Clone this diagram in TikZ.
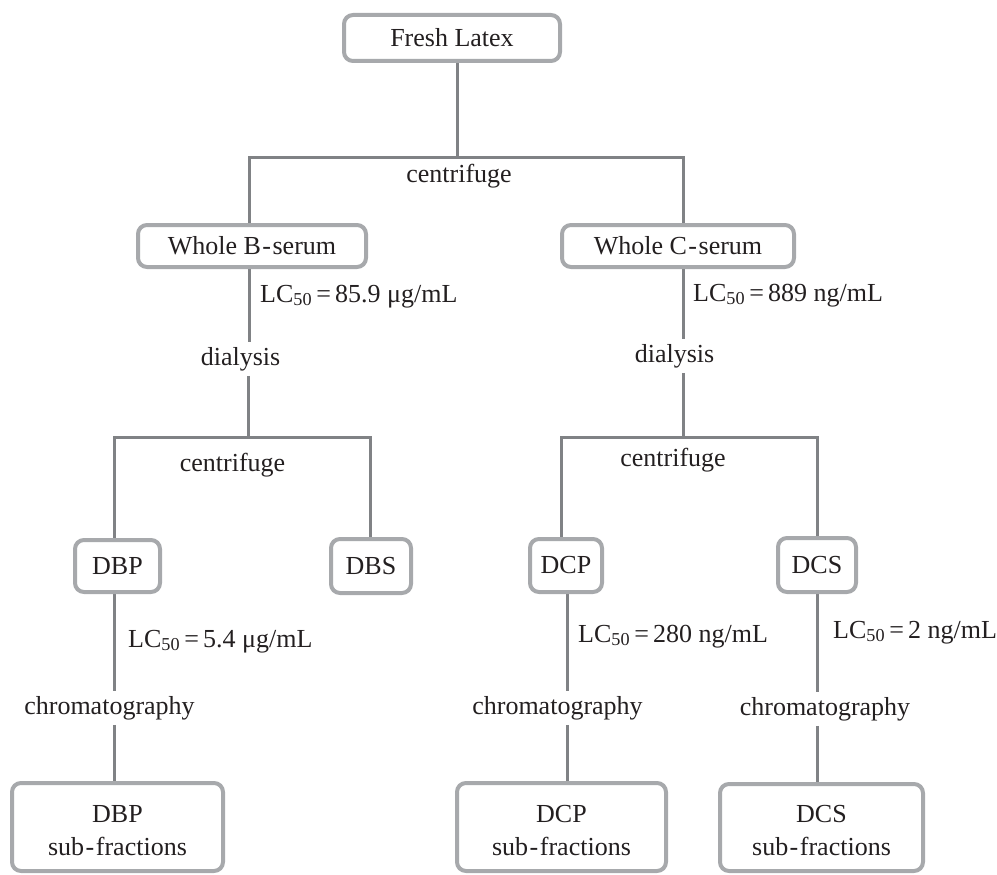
\documentclass[tikz,border=0pt]{standalone}
\usepackage{fontspec}
\setmainfont{Liberation Serif}
\definecolor{boxgray}{RGB}{167,169,172}
\definecolor{linegray}{RGB}{128,130,133}
\definecolor{txt}{RGB}{35,31,32}
\pgfdeclarelayer{background}
\pgfsetlayers{background,main}
\newcommand{\lcv}[1]{LC\textsubscript{50}\hspace{0.16em}=\hspace{0.16em}#1}
\newcommand{\hy}{\kern1.5pt-\kern1.5pt}
\begin{document}
\begin{tikzpicture}[x=1pt,y=-1pt,
  box/.style={draw=boxgray, line width=4pt, rounded corners=9pt, fill=white, inner sep=0pt,
    font=\fontsize{26}{33}\selectfont, align=center, text=txt},
  conn/.style={draw=linegray, line width=3pt},
  lbl/.style={font=\fontsize{26}{33}\selectfont, text=txt, inner sep=5pt, anchor=base},
  lc/.style={font=\fontsize{26}{33}\selectfont, text=txt, inner sep=0pt, anchor=base west}]
\useasboundingbox (0,0) rectangle (997,875);

% boxes
\node[box, minimum width=216pt, minimum height=46pt] (fl) at (452,38) {Fresh Latex};
\node[box, minimum width=228pt, minimum height=42pt] (wb) at (252,246) {Whole B\hy serum};
\node[box, minimum width=232pt, minimum height=42pt] (wc) at (678,246) {Whole C\hy serum};
\node[box, minimum width=85pt, minimum height=52pt] (dbp) at (117.5,566) {DBP};
\node[box, minimum width=80pt, minimum height=54pt] (dbs) at (371,566) {DBS};
\node[box, minimum width=72pt, minimum height=53pt] (dcp) at (566,565.5) {DCP};
\node[box, minimum width=78pt, minimum height=54pt] (dcs) at (817,565) {DCS};
\node[box, minimum width=211pt, minimum height=88pt] (dbpsub) at (117.5,827) {\rule{0pt}{24pt}DBP\\sub\hy fractions};
\node[box, minimum width=209pt, minimum height=88pt] (dcpsub) at (561.5,827) {\rule{0pt}{25pt}DCP\\sub\hy fractions};
\node[box, minimum width=203pt, minimum height=87pt] (dcssub) at (821.5,827.5) {\rule{0pt}{23pt}DCS\\sub\hy fractions};

% step labels
\node[lbl] (cf1) at (459,182) {centrifuge};
\node[lbl] (dl1) at (240.5,365) {dialysis};
\node[lbl] (dl2) at (674.5,362) {dialysis};
\node[lbl] (cf2) at (232.5,471) {centrifuge};
\node[lbl] (cf3) at (673,466) {centrifuge};
\node[lbl] (ch1) at (109.5,714) {chromatography};
\node[lbl] (ch2) at (557.5,714) {chromatography};
\node[lbl] (ch3) at (825,715) {chromatography};

% LC50 values
\node[lc] (lc1) at (260,302) {\lcv{85.9 μg/mL}};
\node[lc] (lc2) at (693,301) {\lcv{889 ng/mL}};
\node[lc] (lc3) at (128,647) {\lcv{5.4 μg/mL}};
\node[lc] (lc4) at (578,642) {\lcv{280 ng/mL}};
\node[lc] (lc5) at (833,638) {\lcv{2 ng/mL}};

% junction coordinates
\coordinate (t0) at (457,157);
\coordinate (tl) at (249,157);
\coordinate (tr) at (683,157);
\coordinate (bl) at (248,437);
\coordinate (bll) at (114,437);
\coordinate (blr) at (370,437);
\coordinate (br) at (683,437);
\coordinate (brl) at (561,437);
\coordinate (brr) at (817,437);
\coordinate (cpx) at (567,700);

\begin{pgfonlayer}{background}
\draw[conn] (fl.south -| t0) -- (t0);
\draw[conn] (wb.north -| tl) -- (tl) -- (tr) -- (wc.north -| tr);
% left branch
\draw[conn] (wb.south -| tl) -- (dl1.north -| tl);
\draw[conn] (dl1.south -| bl) -- (bl);
\draw[conn] (dbp.north -| bll) -- (bll) -- (blr) -- (dbs.north -| blr);
\draw[conn] (dbp.south -| bll) -- (ch1.north -| bll);
\draw[conn] (ch1.south -| bll) -- (dbpsub.north -| bll);
% right branch
\draw[conn] (wc.south -| tr) -- (dl2.north -| tr);
\draw[conn] (dl2.south -| br) -- (br);
\draw[conn] (dcp.north -| brl) -- (brl) -- (brr) -- (dcs.north -| brr);
\draw[conn] (dcp.south -| cpx) -- (ch2.north -| cpx);
\draw[conn] (ch2.south -| cpx) -- (dcpsub.north -| cpx);
\draw[conn] (dcs.south -| brr) -- (ch3.north -| brr);
\draw[conn] (ch3.south -| brr) -- (dcssub.north -| brr);
\end{pgfonlayer}
\end{tikzpicture}
\end{document}
